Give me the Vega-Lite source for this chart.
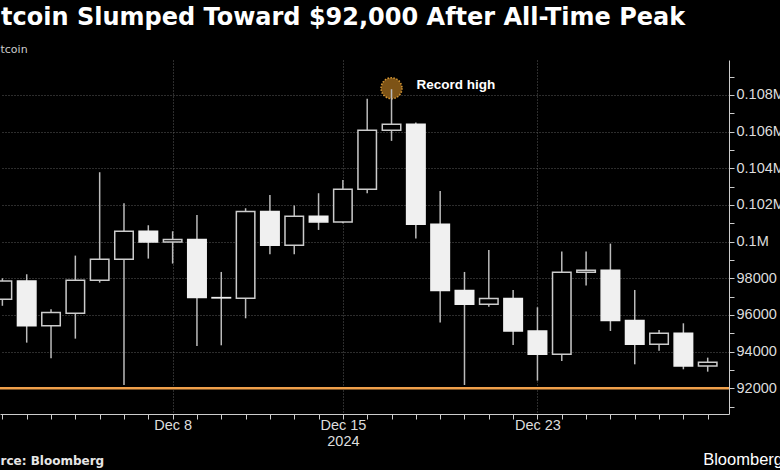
{
  "$schema": "https://vega.github.io/schema/vega-lite/v6.json",
  "width": 729,
  "height": 354,
  "autosize": "none",
  "padding": {"left": 0, "top": 60, "right": 51, "bottom": 56},
  "background": "#000000",
  "title": {
    "text": "Bitcoin Slumped Toward $92,000 After All-Time Peak",
    "anchor": "start",
    "frame": "group",
    "dx": -25.5,
    "font": "DejaVu Sans",
    "fontSize": 24,
    "fontWeight": "bold",
    "color": "#ffffff",
    "offset": -6,
    "baseline": "alphabetic"
  },
  "datasets": {
    "candles": [
      {"date": "2024-12-01", "open": 96854, "high": 98000, "low": 96500, "close": 97854},
      {"date": "2024-12-02", "open": 97854, "high": 98218, "low": 94491, "close": 95418},
      {"date": "2024-12-03", "open": 95418, "high": 96309, "low": 93636, "close": 96127},
      {"date": "2024-12-04", "open": 96091, "high": 99236, "low": 94709, "close": 97891},
      {"date": "2024-12-05", "open": 97891, "high": 103781, "low": 97764, "close": 99036},
      {"date": "2024-12-06", "open": 99036, "high": 102090, "low": 92182, "close": 100563},
      {"date": "2024-12-07", "open": 100563, "high": 100890, "low": 99072, "close": 99981},
      {"date": "2024-12-08", "open": 99981, "high": 100563, "low": 98800, "close": 100109},
      {"date": "2024-12-09", "open": 100109, "high": 101454, "low": 94309, "close": 96945},
      {"date": "2024-12-10", "open": 96945, "high": 98345, "low": 94345, "close": 96930},
      {"date": "2024-12-11", "open": 96909, "high": 101818, "low": 95818, "close": 101636},
      {"date": "2024-12-12", "open": 101636, "high": 102545, "low": 99309, "close": 99800},
      {"date": "2024-12-13", "open": 99800, "high": 101963, "low": 99309, "close": 101381},
      {"date": "2024-12-14", "open": 101381, "high": 102636, "low": 100636, "close": 101072},
      {"date": "2024-12-15", "open": 101072, "high": 103363, "low": 101000, "close": 102854},
      {"date": "2024-12-16", "open": 102854, "high": 107782, "low": 102636, "close": 106071},
      {"date": "2024-12-17", "open": 106071, "high": 108308, "low": 105490, "close": 106400},
      {"date": "2024-12-18", "open": 106400, "high": 106490, "low": 100163, "close": 100945},
      {"date": "2024-12-19", "open": 100945, "high": 102763, "low": 95582, "close": 97327},
      {"date": "2024-12-20", "open": 97327, "high": 98345, "low": 92182, "close": 96582},
      {"date": "2024-12-21", "open": 96582, "high": 99545, "low": 96454, "close": 96891},
      {"date": "2024-12-22", "open": 96891, "high": 97363, "low": 94363, "close": 95127},
      {"date": "2024-12-23", "open": 95127, "high": 96418, "low": 92418, "close": 93854},
      {"date": "2024-12-24", "open": 93854, "high": 99454, "low": 93491, "close": 98327},
      {"date": "2024-12-25", "open": 98327, "high": 99454, "low": 97600, "close": 98436},
      {"date": "2024-12-26", "open": 98436, "high": 99890, "low": 95127, "close": 95691},
      {"date": "2024-12-27", "open": 95691, "high": 97363, "low": 93309, "close": 94400},
      {"date": "2024-12-28", "open": 94400, "high": 95182, "low": 94054, "close": 95000},
      {"date": "2024-12-29", "open": 95000, "high": 95545, "low": 93036, "close": 93218},
      {"date": "2024-12-30", "open": 93218, "high": 93673, "low": 92909, "close": 93418}
    ],
    "notes": [
      {"date": "2024-12-17", "value": 108360, "label": "Record high"}
    ]
  },
  "layer": [
    {
      "data": {"values": [{"level": 92000}]},
      "mark": {"type": "rule", "color": "#f0a04b", "strokeWidth": 2.5},
      "encoding": {
        "y": {
          "field": "level",
          "type": "quantitative",
          "scale": {"domain": [90600, 109900], "nice": false, "zero": false},
          "axis": {
            "orient": "left",
            "title": "Bitcoin",
            "titleX": -10.6,
            "titleY": -8,
            "titleAngle": 0,
            "titleAlign": "left",
            "titleBaseline": "alphabetic",
            "titleFont": "DejaVu Sans",
            "titleFontSize": 11,
            "titleFontWeight": "normal",
            "titleColor": "#cccccc",
            "labels": false,
            "ticks": false,
            "domain": false,
            "grid": false
          }
        }
      }
    },
    {
      "data": {"name": "notes"},
      "mark": {"type": "point", "filled": true, "fill": "#7d5316", "fillOpacity": 1, "stroke": "#d99a36", "strokeWidth": 1.5, "strokeDash": [1.5, 1.5], "size": 440, "opacity": 1},
      "encoding": {
        "x": {"field": "date", "type": "temporal", "scale": {"type": "utc", "domain": [{"year": 2024, "month": 12, "date": 1, "hours": 2, "minutes": 35, "utc": true}, {"year": 2024, "month": 12, "date": 30, "hours": 16, "minutes": 5, "utc": true}]}},
        "y": {"field": "value", "type": "quantitative", "axis": null}
      }
    },
    {
      "data": {"name": "candles"},
      "mark": {"type": "rule", "color": "#bbbbbb", "strokeWidth": 1.5},
      "encoding": {
        "x": {
          "field": "date",
          "type": "temporal",
          "scale": {"type": "utc", "domain": [{"year": 2024, "month": 12, "date": 1, "hours": 2, "minutes": 35, "utc": true}, {"year": 2024, "month": 12, "date": 30, "hours": 16, "minutes": 5, "utc": true}]},
          "axis": {
            "tickCount": {"interval": "day", "step": 1},
            "labelExpr": "utcdate(datum.value) == 8 ? 'Dec 8' : utcdate(datum.value) == 15 ? ['Dec 15', '2024'] : utcdate(datum.value) == 23 ? 'Dec 23' : ''",
            "grid": true,
            "gridColor": "#5a5a5a",
            "gridDash": [1, 2],
            "gridOpacity": {"condition": {"test": "utcdate(datum.value) == 8 || utcdate(datum.value) == 15 || utcdate(datum.value) == 23", "value": 1}, "value": 0},
            "tickSize": 5,
            "tickColor": "#cccccc",
            "domainColor": "#cccccc",
            "labelFont": "Liberation Sans",
            "labelFontSize": 14.5,
            "labelColor": "#dddddd",
            "labelPadding": -1,
            "labelFlush": false,
            "labelOverlap": false,
            "labelBound": false,
            "labelLineHeight": 16,
            "title": "Source: Bloomberg",
            "titleX": -25.4,
            "titleY": 50,
            "titleAlign": "left",
            "titleAnchor": "start",
            "titleBaseline": "alphabetic",
            "titleFont": "DejaVu Sans",
            "titleFontSize": 12,
            "titleFontWeight": "bold",
            "titleColor": "#e6e6e6"
          }
        },
        "y": {
          "field": "low",
          "type": "quantitative",
          "scale": {"domain": [90600, 109900], "nice": false, "zero": false},
          "axis": {
            "orient": "right",
            "values": [91000, 92000, 93000, 94000, 95000, 96000, 97000, 98000, 99000, 100000, 101000, 102000, 103000, 104000, 105000, 106000, 107000, 108000, 109000],
            "labelExpr": "datum.value % 2000 != 0 ? '' : datum.value >= 100000 ? format(datum.value / 1000000, '.3~f') + 'M' : format(datum.value, 'd')",
            "grid": true,
            "gridColor": "#5a5a5a",
            "gridDash": [1, 2],
            "gridOpacity": {"condition": {"test": "datum.value % 2000 == 0 && datum.value != 92000", "value": 1}, "value": 0},
            "tickSize": 5,
            "tickColor": "#cccccc",
            "domainColor": "#cccccc",
            "labelFont": "Liberation Sans",
            "labelFontSize": 14.5,
            "labelColor": "#dddddd",
            "labelPadding": 2,
            "labelOverlap": false,
            "labelBound": false,
            "labelFlush": false,
            "title": "Bloomberg",
            "titleX": -26.3,
            "titleY": 404,
            "titleAngle": 0,
            "titleAlign": "left",
            "titleBaseline": "alphabetic",
            "titleFont": "Liberation Sans",
            "titleFontSize": 16.5,
            "titleFontWeight": "normal",
            "titleColor": "#ffffff"
          }
        },
        "y2": {"field": "high"}
      }
    },
    {
      "data": {"name": "candles"},
      "mark": {"type": "bar", "width": 18.5, "strokeWidth": 1.5},
      "encoding": {
        "x": {"field": "date", "type": "temporal", "scale": {"type": "utc", "domain": [{"year": 2024, "month": 12, "date": 1, "hours": 2, "minutes": 35, "utc": true}, {"year": 2024, "month": 12, "date": 30, "hours": 16, "minutes": 5, "utc": true}]}},
        "y": {"field": "open", "type": "quantitative", "axis": null},
        "y2": {"field": "close"},
        "fill": {"condition": {"test": "datum.close > datum.open", "value": "#000000"}, "value": "#f0f0f0"},
        "stroke": {"condition": {"test": "datum.close > datum.open", "value": "#cccccc"}, "value": "#f0f0f0"}
      }
    },
    {
      "data": {"name": "notes"},
      "mark": {"type": "text", "align": "left", "baseline": "middle", "dx": 25, "dy": -3, "font": "Liberation Sans", "fontSize": 13.5, "fontWeight": "bold", "color": "#ffffff"},
      "encoding": {
        "x": {"field": "date", "type": "temporal", "scale": {"type": "utc", "domain": [{"year": 2024, "month": 12, "date": 1, "hours": 2, "minutes": 35, "utc": true}, {"year": 2024, "month": 12, "date": 30, "hours": 16, "minutes": 5, "utc": true}]}},
        "y": {"field": "value", "type": "quantitative", "axis": null},
        "text": {"field": "label"}
      }
    }
  ],
  "resolve": {"axis": {"y": "independent"}},
  "config": {
    "view": {"stroke": null},
    "axis": {"domainWidth": 1, "tickWidth": 1}
  }
}
